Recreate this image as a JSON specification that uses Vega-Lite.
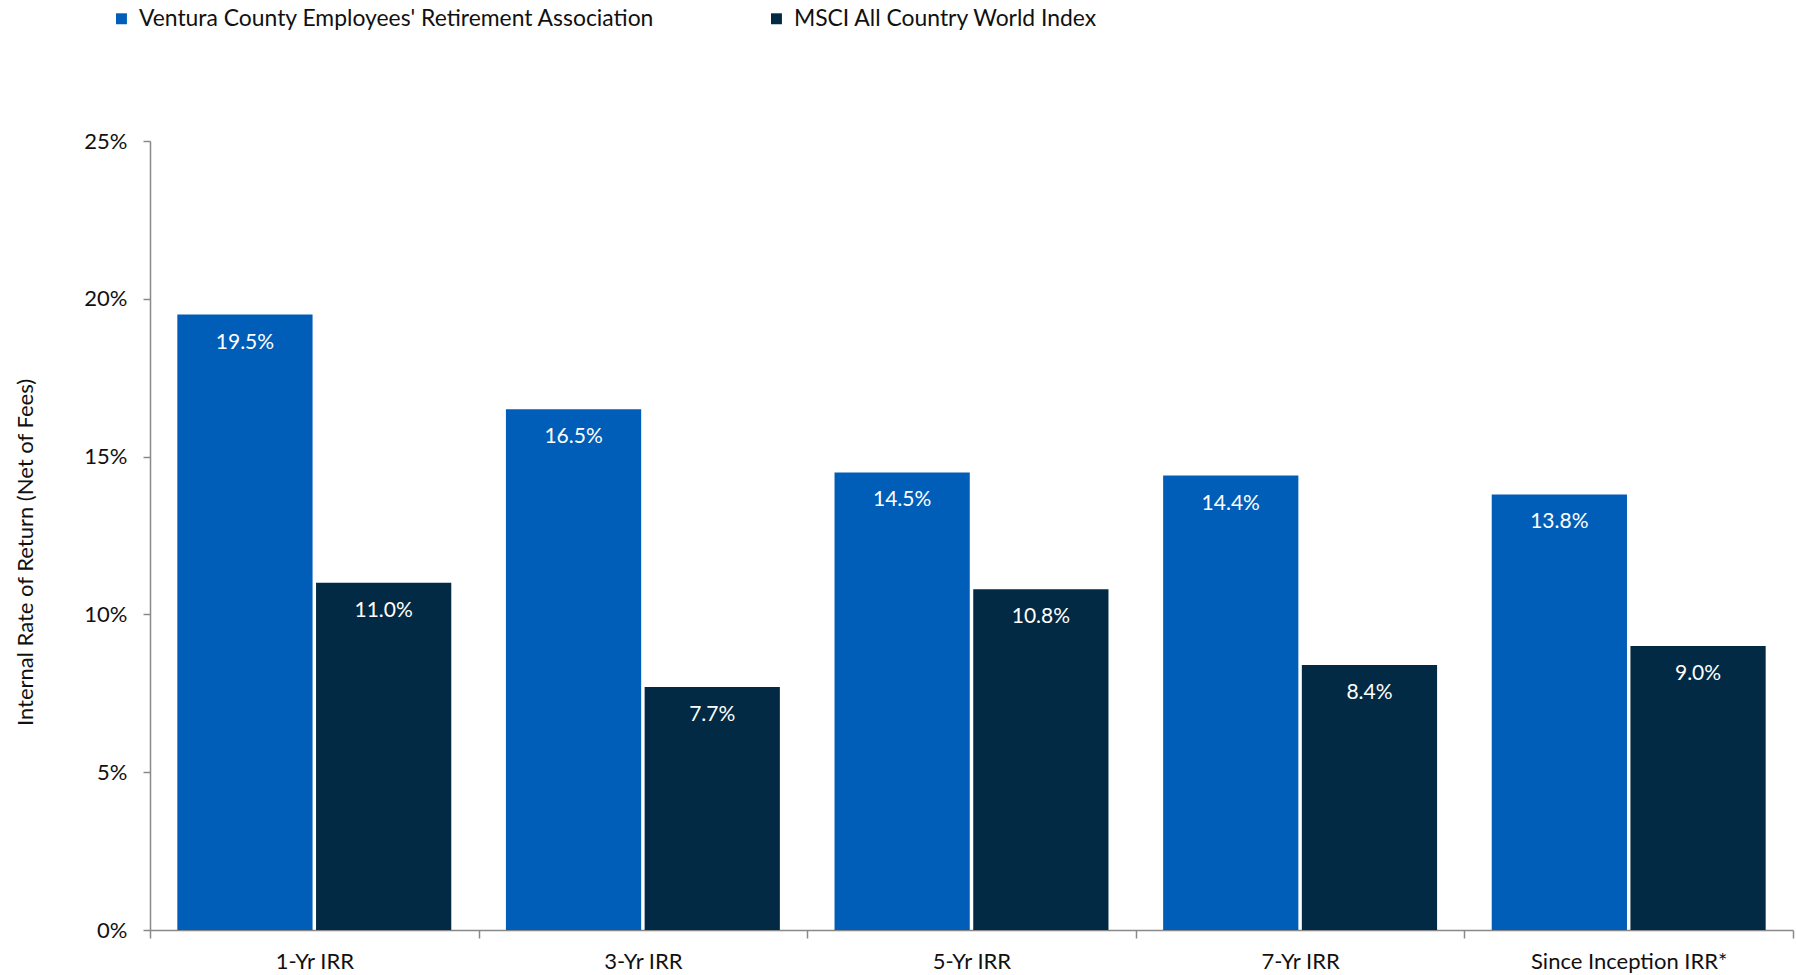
{
  "$schema": "https://vega.github.io/schema/vega-lite/v6.json",
  "autosize": {"type": "none"},
  "width": 1643,
  "height": 789,
  "padding": {"left": 150, "top": 141, "right": 3, "bottom": 45},
  "background": "white",
  "config": {"view": {"stroke": null}},
  "data": {
    "values": [
      {"period": "1-Yr IRR", "series": "Ventura County Employees' Retirement Association", "irr": 0.195},
      {"period": "1-Yr IRR", "series": "MSCI All Country World Index", "irr": 0.110},
      {"period": "3-Yr IRR", "series": "Ventura County Employees' Retirement Association", "irr": 0.165},
      {"period": "3-Yr IRR", "series": "MSCI All Country World Index", "irr": 0.077},
      {"period": "5-Yr IRR", "series": "Ventura County Employees' Retirement Association", "irr": 0.145},
      {"period": "5-Yr IRR", "series": "MSCI All Country World Index", "irr": 0.108},
      {"period": "7-Yr IRR", "series": "Ventura County Employees' Retirement Association", "irr": 0.144},
      {"period": "7-Yr IRR", "series": "MSCI All Country World Index", "irr": 0.084},
      {"period": "Since Inception IRR*", "series": "Ventura County Employees' Retirement Association", "irr": 0.138},
      {"period": "Since Inception IRR*", "series": "MSCI All Country World Index", "irr": 0.090}
    ]
  },
  "encoding": {
    "x": {
      "field": "period",
      "type": "nominal",
      "sort": null,
      "scale": {"paddingInner": 0, "paddingOuter": 0},
      "axis": {
        "title": null,
        "labelAngle": 0,
        "labelFont": "Lato",
        "labelFontSize": 22,
        "labelColor": "#111111",
        "labelPadding": 13,
        "labelLimit": 0,
        "domainColor": "#898989",
        "domainWidth": 1.5,
        "tickColor": "#898989",
        "tickWidth": 1.5,
        "tickSize": 8,
        "tickBand": "extent"
      }
    },
    "xOffset": {
      "field": "series",
      "type": "nominal",
      "sort": ["Ventura County Employees' Retirement Association", "MSCI All Country World Index"],
      "scale": {"paddingInner": 0.025, "paddingOuter": 0.197}
    },
    "y": {
      "field": "irr",
      "type": "quantitative",
      "scale": {"domain": [0, 0.25], "nice": false},
      "axis": {
        "title": "Internal Rate of Return (Net of Fees)",
        "titleFont": "Lato",
        "titleFontSize": 22,
        "titleFontWeight": "normal",
        "titleColor": "#111111",
        "titleX": -125,
        "titleY": 411,
        "titleBaseline": "middle",
        "titleAngle": -90,
        "values": [0, 0.05, 0.1, 0.15, 0.2, 0.25],
        "format": ".0%",
        "labelFont": "Lato",
        "labelFontSize": 22,
        "labelColor": "#111111",
        "labelPadding": 16,
        "domainColor": "#898989",
        "domainWidth": 1.5,
        "tickColor": "#898989",
        "tickWidth": 1.5,
        "tickSize": 7,
        "grid": false
      }
    }
  },
  "layer": [
    {
      "mark": {"type": "bar"},
      "encoding": {
        "color": {
          "field": "series",
          "type": "nominal",
          "sort": ["Ventura County Employees' Retirement Association", "MSCI All Country World Index"],
          "scale": {
            "domain": ["Ventura County Employees' Retirement Association", "MSCI All Country World Index"],
            "range": ["#005EB8", "#022A44"]
          },
          "legend": {
            "title": null,
            "orient": "none",
            "direction": "horizontal",
            "legendX": -40,
            "legendY": -134,
            "symbolType": "square",
            "symbolSize": 120,
            "symbolStrokeWidth": 0,
            "labelFont": "Lato",
            "labelFontSize": 22.9,
            "labelColor": "#111111",
            "labelOffset": 6,
            "labelLimit": 0,
            "columnPadding": 110
          }
        }
      }
    },
    {
      "mark": {
        "type": "text",
        "color": "white",
        "font": "Lato",
        "fontSize": 21,
        "baseline": "middle",
        "align": "center",
        "dy": 28
      },
      "encoding": {
        "text": {"field": "irr", "type": "quantitative", "format": ".1%"}
      }
    }
  ]
}
